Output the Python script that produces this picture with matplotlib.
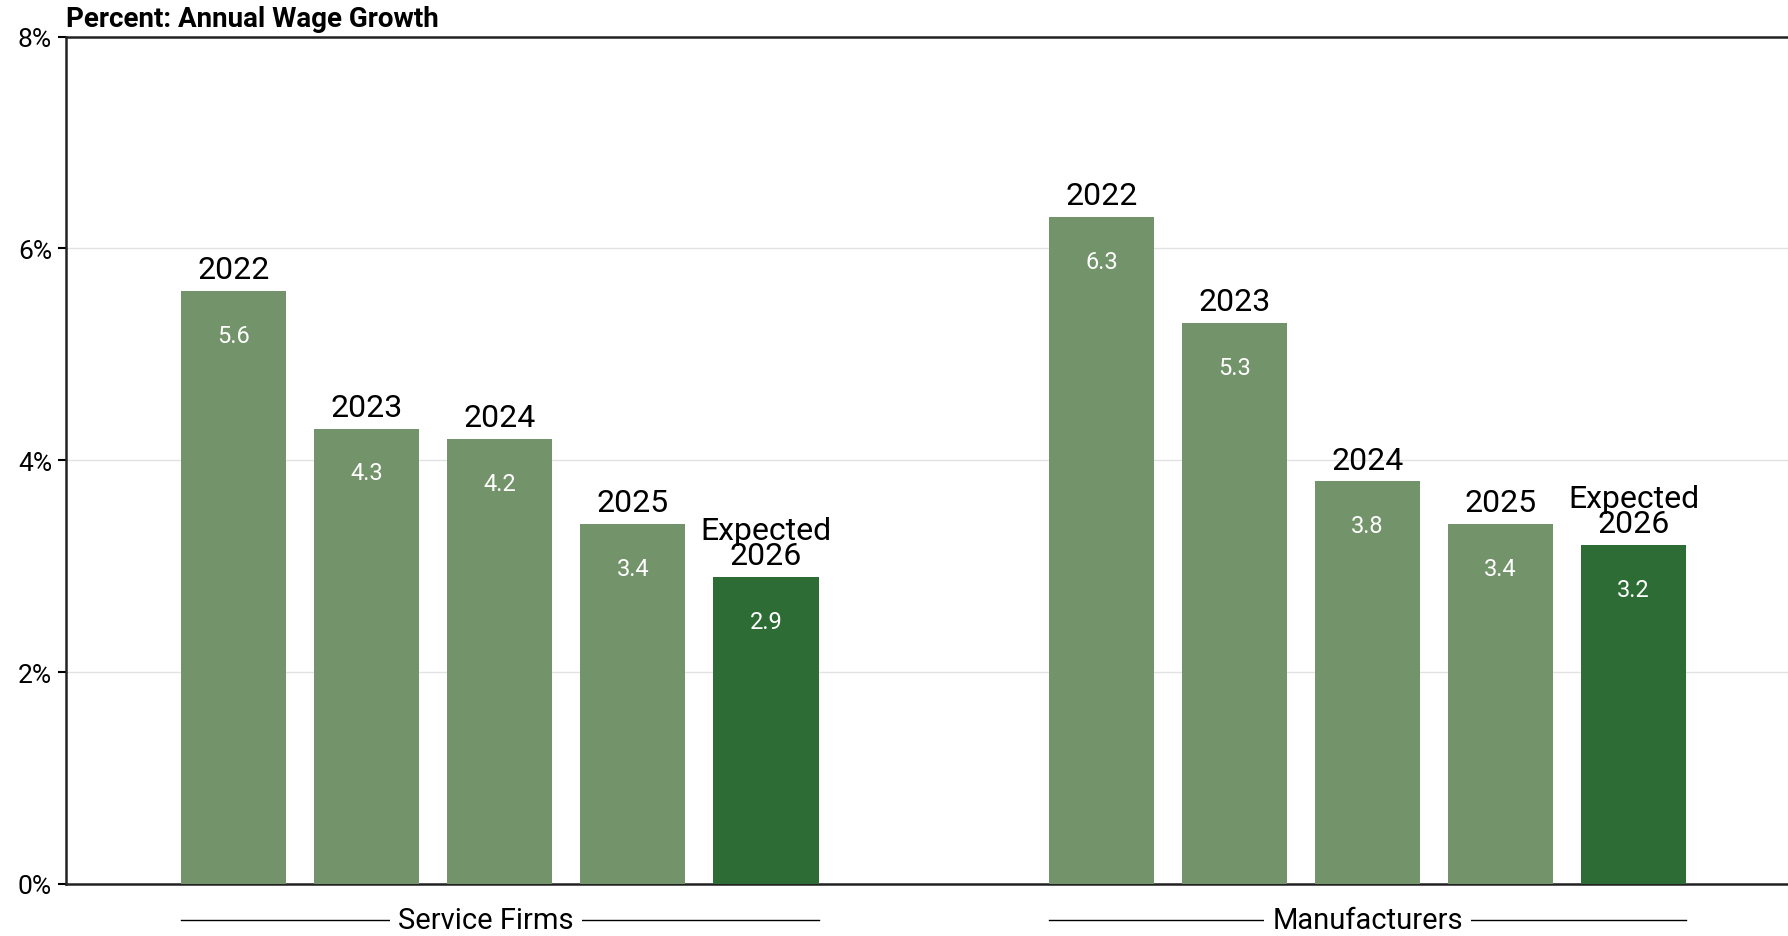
import numpy as np
import matplotlib.pyplot as plt
from matplotlib.ticker import FuncFormatter

plt.rcParams['font.family'] = ['Roboto', 'DejaVu Sans']

groups = ['Service Firms', 'Manufacturers']
years = ['2022', '2023', '2024', '2025', 'Expected\n2026']
service = [5.6, 4.3, 4.2, 3.4, 2.9]
manufacturers = [6.3, 5.3, 3.8, 3.4, 3.2]

LIGHT = '#73936a'
DARK = '#2e6c36'

fig = plt.figure(figsize=(17.88, 9.37), dpi=100)
ax = fig.add_axes([66 / 1788, 52 / 937, 1 - 66 / 1788, 847.4 / 937])

width = 0.79
offsets = [0, 6.52]
label_shift = [-10, 0]  # points; service label sits a little left of centre
colors = [LIGHT] * 4 + [DARK]

for off, vals, name, shift in zip(offsets, [service, manufacturers], groups, label_shift):
    xs = off + np.arange(len(vals))
    ax.bar(xs, vals, width=width, color=colors, zorder=3)
    for x, v, yr in zip(xs, vals, years):
        ax.annotate(yr, (x, v), xytext=(0, 5), textcoords='offset points',
                    ha='center', va='bottom', fontsize=23, linespacing=0.82)
        ax.annotate(f'{v:.1f}', (x, v), xytext=(0, -32), textcoords='offset points',
                    ha='center', va='center', fontsize=17, color='white')
    # group label with a rule on each side
    left, right = xs[0] - width / 2, xs[-1] + width / 2
    ax.plot([left, right], [-0.0425, -0.0425], color='black', lw=1,
            transform=ax.get_xaxis_transform(), clip_on=False)
    ax.annotate(name, ((left + right) / 2, -0.0425), xycoords=ax.get_xaxis_transform(),
                xytext=(shift, 0), textcoords='offset points',
                ha='center', va='center', fontsize=21, annotation_clip=False,
                bbox=dict(facecolor='white', edgecolor='none', pad=6))

ax.set_xlim(-1.26, 11.68)
ax.set_ylim(0, 8)
ax.set_yticks([0, 2, 4, 6, 8])
ax.yaxis.set_major_formatter(FuncFormatter(lambda v, _: f'{v:.0f}%'))
ax.tick_params(axis='y', labelsize=19, length=6, width=1.5, pad=4)
ax.set_xticks([])
ax.grid(axis='y', color='#e2e2e2', lw=1, zorder=0)

for side in ['left', 'bottom', 'top']:
    ax.spines[side].set_linewidth(1.8)
    ax.spines[side].set_color('#222222')
ax.spines['right'].set_visible(False)

ax.annotate('Percent: Annual Wage Growth', (0, 1), xycoords='axes fraction',
            xytext=(0, 3), textcoords='offset points',
            ha='left', va='bottom', fontsize=20, fontweight='bold')

fig.savefig('out.png', dpi=100)
